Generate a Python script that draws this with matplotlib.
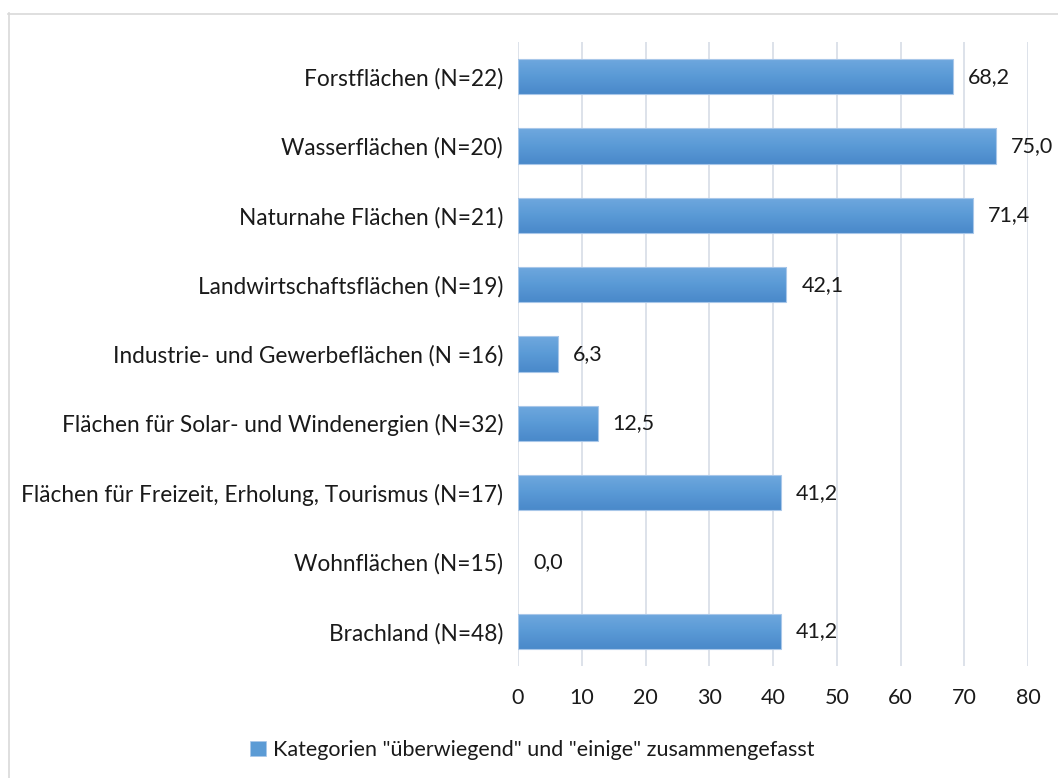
import numpy as np
import matplotlib.pyplot as plt
from matplotlib.patches import Patch
from matplotlib.lines import Line2D
from matplotlib.colors import LinearSegmentedColormap

plt.rcParams['font.family'] = ['Lato', 'DejaVu Sans']

# Kategorien von oben nach unten
categories = [
    "Forstflächen (N=22)",
    "Wasserflächen (N=20)",
    "Naturnahe Flächen (N=21)",
    "Landwirtschaftsflächen (N=19)",
    "Industrie- und Gewerbeflächen (N =16)",
    "Flächen für Solar- und Windenergien (N=32)",
    "Flächen für Freizeit, Erholung, Tourismus (N=17)",
    "Wohnflächen (N=15)",
    "Brachland (N=48)",
]
values = [68.2, 75.0, 71.4, 42.1, 6.3, 12.5, 41.2, 0.0, 41.2]
xticks = [0, 10, 20, 30, 40, 50, 60, 70, 80]
legend_label = 'Kategorien "überwiegend" und "einige" zusammengefasst'

W, H = 1058, 778
fig = plt.figure(figsize=(W / 100, H / 100), dpi=100)
ax = fig.add_axes([518 / W, 1 - 666 / H, (1028 - 518) / W, (666 - 42) / H])

y = np.arange(len(categories))
bars = ax.barh(y, values, height=0.505, color='none', edgecolor='#a8c7e9',
               linewidth=0.8, zorder=3)

# Farbverlauf von oben (hell) nach unten (dunkel)
grad = LinearSegmentedColormap.from_list('bar', ['#6fa8de', '#5a9ad6', '#4a89ca'])
g = np.linspace(0, 1, 64).reshape(-1, 1)
for b in bars:
    x0, y0 = b.get_x(), b.get_y()
    w, h = b.get_width(), b.get_height()
    if w <= 0:
        b.set_edgecolor('none')
        continue
    im = ax.imshow(g, cmap=grad, aspect='auto', extent=(x0, x0 + w, y0 + h, y0),
                   origin='upper', zorder=2, interpolation='bilinear')
    im.set_clip_path(b)

for yi, v in zip(y, values):
    ax.annotate(f"{v:.1f}".replace('.', ','), xy=(v, yi), xytext=(15, 0),
                textcoords='offset pixels', va='center', ha='left',
                fontsize=15.5, color='#1a1a1a')

ax.set_xlim(0, 80)
ax.set_ylim(len(categories) - 0.5, -0.5)
ax.set_xticks(xticks)
ax.set_yticks(y)
ax.set_yticklabels(categories)
ax.tick_params(axis='both', length=0, labelsize=15.5, colors='#1a1a1a')
ax.tick_params(axis='x', pad=16)
ax.tick_params(axis='y', pad=10.8, labelsize=16.3)
ax.grid(axis='x', color='#dde2ea', linewidth=1.4, zorder=0)
ax.set_axisbelow(True)
for s in ax.spines.values():
    s.set_visible(False)

fig.legend(handles=[Patch(facecolor='#5b9bd5', edgecolor='#a8c7e9', linewidth=0.5)],
           labels=[legend_label], loc='center', bbox_to_anchor=(532 / W, 1 - 750 / H),
           frameon=False, fontsize=15.5, handlelength=0.75, handleheight=0.75,
           handletextpad=0.3, labelcolor='#1a1a1a')

# Rahmen oben und links
fig.add_artist(Line2D([8 / W, 1], [1 - 13.5 / H, 1 - 13.5 / H], color='#d9d9d9',
                      linewidth=1.2, transform=fig.transFigure))
fig.add_artist(Line2D([8.5 / W, 8.5 / W], [0, 1 - 13 / H], color='#d9d9d9',
                      linewidth=1.2, transform=fig.transFigure))

fig.savefig('out.png', dpi=100)
